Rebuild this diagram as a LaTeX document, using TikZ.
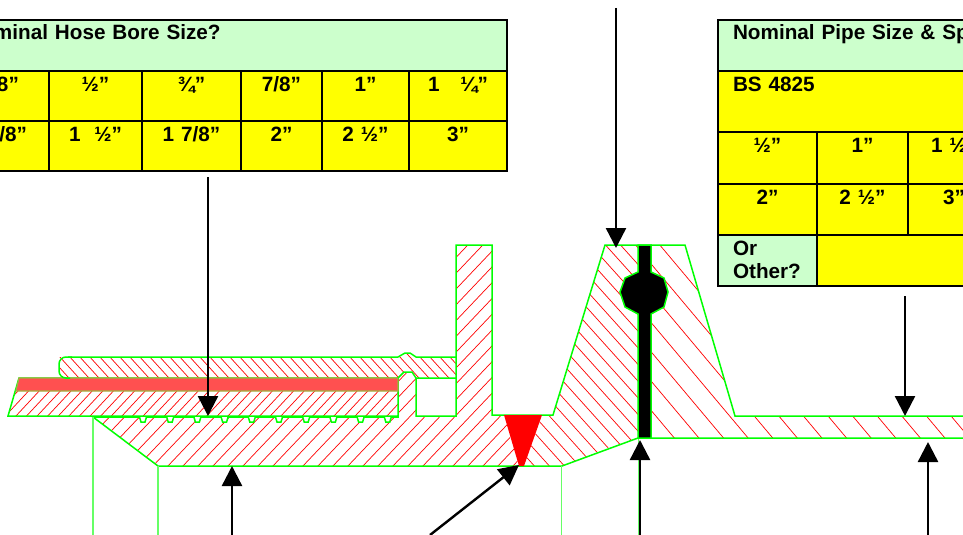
\documentclass[tikz,border=0pt]{standalone}
\usepackage{fontspec}
\setmainfont{Liberation Sans}
\usetikzlibrary{arrows.meta}

\definecolor{mint}{HTML}{CCFFCC}
\definecolor{cellyellow}{HTML}{FFFF00}
\definecolor{lime}{HTML}{00FF00}
\definecolor{guidegreen}{HTML}{66FF66}
\definecolor{bandred}{HTML}{FF5050}
\definecolor{bandedge}{HTML}{A0B040}
\definecolor{hatchred}{HTML}{FF0000}

\newcommand{\hatchlines}[4]{\foreach \k in {0,...,#4} \draw[hatchline] ({#1+\k*#2},500) -- ++(#3,-300);}

\begin{document}
\begin{tikzpicture}[x=1pt, y=-1pt, >={Triangle[length=20pt,width=20pt]},
    cell/.style 2 args={draw=black, line width=2pt, fill=cellyellow, anchor=north west, inner sep=0pt, outer sep=0pt,
        font=\fontsize{20.7}{23}\selectfont\bfseries, align=center, text width=#1pt, text height=20pt, text depth={(#2-20)*1pt}},
    headcell/.style 2 args={cell={#1}{#2}, fill=mint, align=left, inner xsep=15pt, text width={(#1-30)*1pt}},
    hatchline/.style={draw=hatchred, line width=0.7pt},
    outline/.style={draw=lime, line width=1.5pt},
    guide/.style={draw=guidegreen, line width=1.3pt},
    pointer/.style={->, draw=black, line width=2.4pt}]
    \path[use as bounding box, clip] (0,0) rectangle (963,535);

    \node[headcell={528}{51}] (hosehead) at (-21,20) {minal Hose Bore Size?};
    \node[cell={52}{50}, align=right] (hoseAa) at (-3,71) {8”\kern31pt};
    \node[cell={93}{50}] (hoseAb) at (49,71) {½”};
    \node[cell={99}{50}] (hoseAc) at (142,71) {¾”};
    \node[cell={81}{50}] (hoseAd) at (241,71) {7/8”};
    \node[cell={87}{50}] (hoseAe) at (322,71) {1”};
    \node[cell={98}{50}] (hoseAf) at (409,71) {1\ \ \ ¼”};
    \node[cell={52}{50}, align=right] (hoseBa) at (-3,121) {/8”\kern22pt};
    \node[cell={93}{50}] (hoseBb) at (49,121) {1\ \ ½”};
    \node[cell={99}{50}] (hoseBc) at (142,121) {1 7/8”};
    \node[cell={81}{50}] (hoseBd) at (241,121) {2”};
    \node[cell={87}{50}] (hoseBe) at (322,121) {2 ½”};
    \node[cell={98}{50}] (hoseBf) at (409,121) {3”};
    \draw[line width=2.5pt] (hosehead.north west) rectangle (hoseBf.south east);

    \node[headcell={300}{51}] (pipehead) at (718,20) {Nominal Pipe Size \& Sp};
    \node[headcell={300}{61}, fill=cellyellow] (pipestd) at (718,71) {BS 4825};
    \node[cell={99}{52}] (pipeAa) at (718,132) {½”};
    \node[cell={91}{52}] (pipeAb) at (817,132) {1”};
    \node[cell={92}{52}] (pipeAc) at (908,132) {1 ½”};
    \node[cell={99}{51}] (pipeBa) at (718,184) {2”};
    \node[cell={91}{51}] (pipeBb) at (817,184) {2 ½”};
    \node[cell={92}{51}] (pipeBc) at (908,184) {3”};
    \node[headcell={99}{51}, fill=mint] (pipeother) at (718,235) {Or\\Other?};
    \node[cell={201}{51}] (pipeblank) at (817,235) {};
    \draw[line width=2.5pt] (pipehead.north west) rectangle (pipeblank.south east);

    \begin{scope}
        \clip (59,378) -- (59,357) -- (398,357) -- (405,353) -- (410,353) -- (416,357) -- (456,357)
            -- (456,378) -- (416,378) -- (412,372) -- (404,372) -- (398,378) -- cycle;
        \hatchlines{100}{10}{-273}{60}
    \end{scope}
    \begin{scope}
        \clip (8,416) -- (19,378) -- (398,378) -- (398,416) -- cycle;
        \hatchlines{-200}{10.6}{279}{60}
    \end{scope}
    \begin{scope}
        \clip (93,417) -- (158,466) -- (519,466) -- (504,415) -- (492,415) -- (492,245) -- (456,245) -- (456,416)
            -- (416,416) -- (416,378) -- (412,372) -- (404,372) -- (398,378) -- (398,417) -- cycle;
        \hatchlines{30.6}{15}{285}{40}
    \end{scope}
    \begin{scope}
        \clip (542,415) -- (553,415) -- (605,245) -- (638,245) -- (638,438) -- (562,466) -- (524,466) -- cycle;
        \hatchlines{520}{15}{-270}{30}
    \end{scope}
    \begin{scope}
        \clip (651,245) -- (685,245) -- (735,416) -- (970,416) -- (970,438) -- (651,438) -- cycle;
        \hatchlines{701.8}{24.6}{-252}{22}
    \end{scope}

    \draw[outline] (8,416) -- (19,378) -- (398,378) -- (398,416) -- cycle;
    \draw[draw=bandedge, line width=1.2pt, fill=bandred] (16,391) -- (19,378) -- (398,378) -- (398,391) -- cycle;
    \draw[outline, rounded corners=7pt] (70,378) -- (59,378) -- (59,357) -- (72,357);
    \draw[outline] (68,357) -- (398,357) -- (405,353) -- (410,353) -- (416,357) -- (456,357);
    \draw[outline] (398,378) -- (404,372) -- (412,372) -- (416,378) -- (456,378);
    \draw[outline] (398,416) -- (398,417) -- (93,417) -- (158,466) -- (562,466) -- (638,438) -- (970,438);
    \draw[outline] (416,378) -- (416,416) -- (456,416) -- (456,245) -- (492,245) -- (492,415) -- (553,415)
        -- (605,245) -- (685,245) -- (735,416) -- (970,416);
    \foreach \x in {143,170.2,...,390}
        \draw[outline, fill=white] (\x-3.5,417) -- (\x-2,422) -- (\x+2,422) -- (\x+3.5,417);
    \draw[guide] (93,417) -- (93,535);
    \draw[guide] (158,466) -- (158,535);
    \draw[guide] (561.5,466) -- (561.5,535);
    \draw[guide] (638.5,438) -- (638.5,535);

    \fill[hatchred] (504,415) -- (542,415) -- (524,466) -- (519,466) -- cycle;
    \draw[outline, fill=black] (638,245) -- (638,272) -- (625,278) -- (620,292) -- (625,307) -- (638,314)
        -- (638,438) -- (651,438) -- (651,314) -- (664,307) -- (668,292) -- (664,278) -- (651,272) -- (651,245) -- cycle;

    \coordinate (topstart) at (616,8);
    \coordinate (toptip) at (616,248);
    \coordinate (borestart) at (208,177);
    \coordinate (boretip) at (208,416);
    \coordinate (tailstart) at (232,535);
    \coordinate (tailtip) at (232,466);
    \coordinate (weldstart) at (430,535);
    \coordinate (weldtip) at (519,465);
    \coordinate (sealstart) at (640,535);
    \coordinate (sealtip) at (640,440);
    \coordinate (sizestart) at (905,296);
    \coordinate (sizetip) at (905,416);
    \coordinate (wallstart) at (928,535);
    \coordinate (walltip) at (928,442);
    \draw[pointer] (topstart) -- (toptip);
    \draw[pointer] (borestart) -- (boretip);
    \draw[pointer] (tailstart) -- (tailtip);
    \draw[pointer] (weldstart) -- (weldtip);
    \draw[pointer] (sealstart) -- (sealtip);
    \draw[pointer] (sizestart) -- (sizetip);
    \draw[pointer] (wallstart) -- (walltip);
\end{tikzpicture}
\end{document}
